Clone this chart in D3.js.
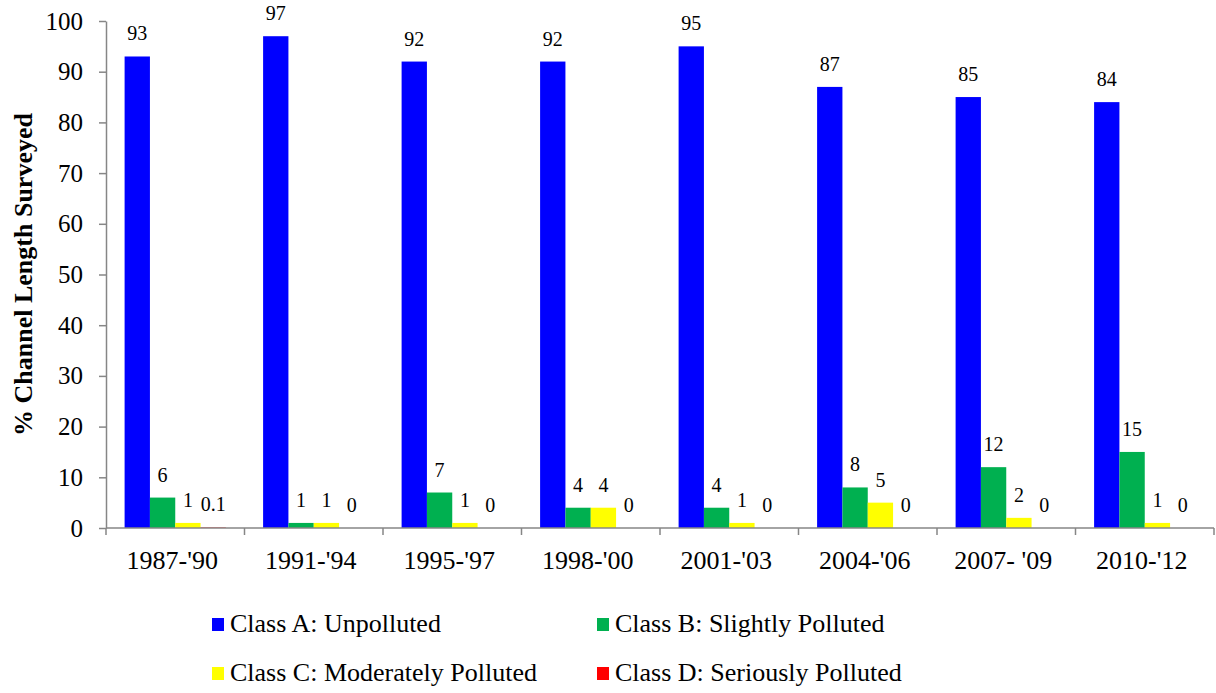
<!DOCTYPE html>
<html>
<head>
<meta charset="utf-8">
<script src="https://cdn.jsdelivr.net/npm/d3@7"></script>
<style>
  html, body { margin: 0; padding: 0; background: #fff; }
  svg text { font-family: "Liberation Serif", "Times New Roman", Times, Tinos, "DejaVu Serif", serif; }
</style>
</head>
<body>
<svg id="chart" width="1216" height="693"></svg>
<script>
// Survey periods
const periods = ["1987-'90", "1991-'94", "1995-'97", "1998-'00", "2001-'03", "2004-'06", "2007- '09", "2010-'12"];

// % of channel length in each water-quality class
const classA = [93, 97, 92, 92, 95, 87, 85, 84];
const classB = [6, 1, 7, 4, 4, 8, 12, 15];
const classC = [1, 1, 1, 4, 1, 5, 2, 1];
const classD = [0.1, 0, 0, 0, 0, 0, 0, 0];

const seriesNames = ["Class A: Unpolluted", "Class B: Slightly Polluted", "Class C: Moderately Polluted", "Class D: Seriously Polluted"];
const seriesColors = ["#0000FF", "#00B050", "#FFFF00", "#FF0000"];
const yTicks = [0, 10, 20, 30, 40, 50, 60, 70, 80, 90, 100];

const seriesValues = [classA, classB, classC, classD];
const rows = periods.map((p, i) => ({ period: p, values: seriesValues.map(s => s[i]) }));

const svg = d3.select("#chart");
const plotLeft = 106, plotRight = 1214, plotTop = 21, plotBottom = 528;

const x0 = d3.scaleBand().domain(periods).range([plotLeft, plotRight]).padding(0);
const groupPad = 18.6;
const x1 = d3.scaleBand().domain(d3.range(4)).range([groupPad, x0.bandwidth() - groupPad]).padding(0);
const y = d3.scaleLinear().domain([0, 100]).range([plotBottom, plotTop]);

const axisColor = "#868686";

// Y axis
const yAxis = svg.append("g")
  .attr("transform", `translate(${plotLeft},0)`)
  .call(d3.axisLeft(y).tickValues(yTicks).tickSize(7).tickPadding(16).tickSizeOuter(0));
yAxis.attr("font-family", null);
yAxis.select(".domain").attr("stroke", axisColor).attr("stroke-width", 1.5);
yAxis.selectAll(".tick line").attr("stroke", axisColor).attr("stroke-width", 1.5);
yAxis.selectAll(".tick text")
  .attr("font-size", 25).attr("fill", "#000");

// Bars
const groups = svg.append("g").selectAll("g")
  .data(rows).join("g")
  .attr("transform", d => `translate(${x0(d.period)},0)`);

groups.selectAll("rect")
  .data(d => d.values.map((v, k) => ({ v, k })))
  .join("rect")
  .attr("x", d => x1(d.k))
  .attr("width", x1.bandwidth())
  .attr("y", d => y(d.v))
  .attr("height", d => y(0) - y(d.v))
  .attr("fill", d => seriesColors[d.k]);

// Value labels
groups.selectAll("text")
  .data(d => d.values.map((v, k) => ({ v, k })))
  .join("text")
  .attr("x", d => x1(d.k) + x1.bandwidth() / 2)
  .attr("y", d => y(d.v) - 16)
  .attr("text-anchor", "middle")
  .attr("font-size", 20)
  .attr("fill", "#000")
  .text(d => d.v);

// X axis line and category boundary ticks
svg.append("line")
  .attr("x1", plotLeft).attr("x2", plotRight)
  .attr("y1", plotBottom).attr("y2", plotBottom)
  .attr("stroke", axisColor).attr("stroke-width", 1.5);

const boundaries = periods.map(p => x0(p)).concat([plotRight]);
svg.append("g").selectAll("line")
  .data(boundaries).join("line")
  .attr("x1", d => d).attr("x2", d => d)
  .attr("y1", plotBottom).attr("y2", plotBottom + 7)
  .attr("stroke", axisColor).attr("stroke-width", 1.5);

svg.append("g").selectAll("text")
  .data(periods).join("text")
  .attr("x", d => x0(d) + x0.bandwidth() / 2 - 3)
  .attr("y", 569)
  .attr("text-anchor", "middle")
  .attr("font-size", 26)
  .attr("fill", "#000")
  .text(d => d);

// Y axis title
svg.append("text")
  .attr("transform", `translate(23,${(plotTop + plotBottom) / 2}) rotate(-90)`)
  .attr("text-anchor", "middle")
  .attr("dy", "0.35em")
  .attr("font-size", 26)
  .attr("font-weight", "bold")
  .attr("fill", "#000")
  .text("% Channel Length Surveyed");

// Legend (2 x 2)
const legendX = [212, 597];
const legendY = [632, 681];
const legend = svg.append("g").selectAll("g")
  .data(seriesNames).join("g")
  .attr("transform", (d, i) => `translate(${legendX[i % 2]},${legendY[Math.floor(i / 2)]})`);
legend.append("rect")
  .attr("x", 0).attr("y", -14)
  .attr("width", 12).attr("height", 13)
  .attr("fill", (d, i) => seriesColors[i]);
legend.append("text")
  .attr("x", 18).attr("y", 0)
  .attr("font-size", 26)
  .attr("fill", "#000")
  .text(d => d);
</script>
</body>
</html>
